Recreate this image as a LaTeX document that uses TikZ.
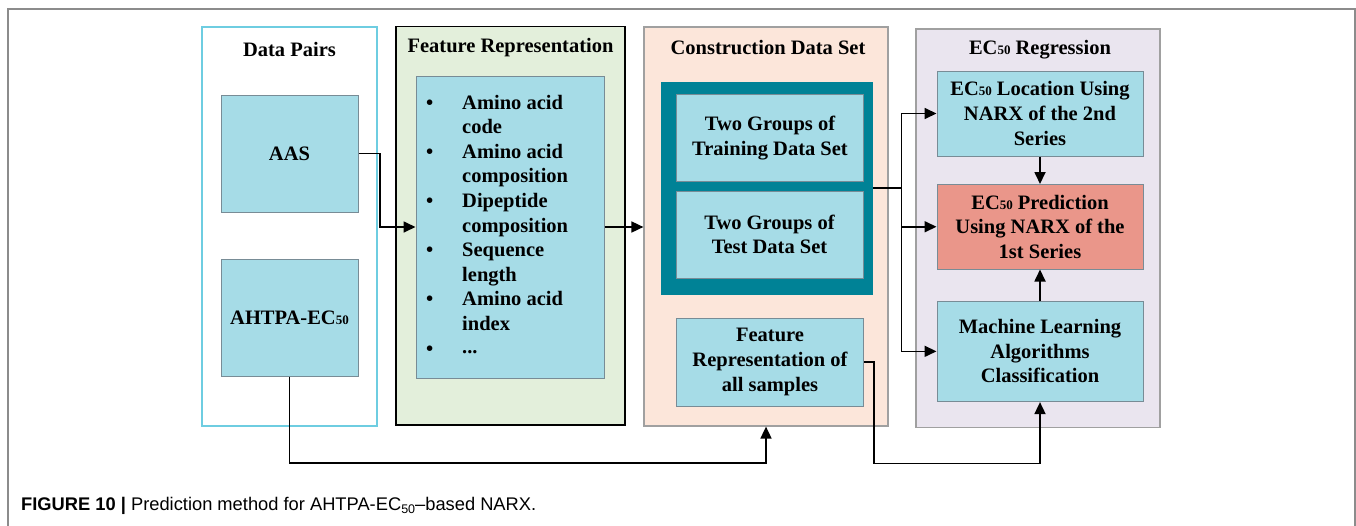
\documentclass[tikz,border=0pt]{standalone}
\usepackage{fontspec}
\setmainfont{Liberation Serif}
\newfontfamily\capfont{Liberation Sans}
\usetikzlibrary{arrows.meta}
\definecolor{boxblue}{RGB}{166,220,231}
\definecolor{boxline}{RGB}{120,140,150}
\definecolor{tealdark}{RGB}{0,130,150}
\definecolor{salmon}{RGB}{234,150,138}
\definecolor{greenpanel}{RGB}{227,239,219}
\definecolor{peach}{RGB}{252,230,218}
\definecolor{lavender}{RGB}{234,229,239}
\definecolor{panelline}{RGB}{160,160,160}
\definecolor{cyanline}{RGB}{110,205,225}
\definecolor{framegray}{RGB}{140,140,140}
\newcommand\smallnum[1]{{\fontsize{13}{13}\selectfont #1}}
\tikzset{
  panel/.style={draw=panelline, line width=1.2pt, inner sep=0pt},
  bluebox/.style={draw=boxline, fill=boxblue, line width=1pt, inner sep=0pt, align=center,
    font=\fontsize{20.5}{24.6}\selectfont\bfseries},
  ttl/.style={inner sep=0pt, font=\fontsize{20.5}{24.6}\selectfont\bfseries},
  arr/.style={draw=black, line width=1.7pt, -{Triangle[length=12pt,width=11pt]}},
  ln/.style={draw=black, line width=1.7pt}
}
\begin{document}
\begin{tikzpicture}[x=1pt,y=-1pt]
\useasboundingbox (0,0) rectangle (1356,525);
\fill[white] (0,0) rectangle (1356,525);
% outer frame
\draw[framegray, line width=1.5pt] (8,530) -- (8,9) -- (1355,9) -- (1355,530);

% panels
\node[panel, draw=cyanline, fill=white, minimum width=175pt, minimum height=399pt] (dp) at (289.5,226.5) {};
\node[panel, draw=black, line width=1.6pt, fill=greenpanel, minimum width=229pt, minimum height=398.5pt] (fr) at (510.5,225.75) {};
\node[panel, fill=peach, minimum width=244pt, minimum height=399pt] (cd) at (766,226.5) {};
\node[panel, fill=lavender, minimum width=244pt, minimum height=398.5pt] (rg) at (1038,228.25) {};

% titles
\node[ttl] (tdp) at (289.5,49.5) {Data Pairs};
\node[ttl] (tfr) at (510.5,48) {Feature Representation};
\node[ttl] (tcd) at (768,48) {Construction Data Set};
\node[ttl] (trg) at (1040,49.5) {EC\smallnum{50} Regression};

% data pairs
\node[bluebox, minimum width=137pt, minimum height=117pt] (aas) at (289.5,153.5) {AAS};
\node[bluebox, minimum width=137pt, minimum height=117pt] (aht) at (289.5,317.5) {AHTPA-EC\smallnum{50}};

% feature list
\node[bluebox, minimum width=188pt, minimum height=302pt] (list) at (510,227) {};
\node[inner sep=0pt, anchor=base west, font=\fontsize{20.5}{24.6}\selectfont\bfseries] (items) at (426,109)
{\begin{tabular}[t]{@{}p{36pt}@{}l@{}}
\textbullet & Amino acid\\
 & code\\
\textbullet & Amino acid\\
 & composition\\
\textbullet & Dipeptide\\
 & composition\\
\textbullet & Sequence\\
 & length\\
\textbullet & Amino acid\\
 & index\\
\textbullet & \raisebox{2pt}{\textbf{...}}
\end{tabular}};

% construction data set
\node[inner sep=0pt, fill=tealdark, minimum width=212.5pt, minimum height=212.5pt] (teal) at (766.75,188.3) {};
\node[bluebox, minimum width=187pt, minimum height=87.5pt] (train) at (770,137.75) {Two Groups of\\Training Data Set};
\node[bluebox, minimum width=187pt, minimum height=87pt] (test) at (769.5,234.5) {Two Groups of\\Test Data Set};
\node[bluebox, minimum width=187pt, minimum height=88pt] (frs) at (770,362) {Feature\\Representation of\\all samples};

% regression
\node[bluebox, minimum width=206pt, minimum height=85pt] (loc) at (1040,113.5) {EC\smallnum{50} Location Using\\NARX of the 2nd\\Series};
\node[bluebox, fill=salmon, minimum width=206pt, minimum height=84.5pt] (pred) at (1040,226.75) {EC\smallnum{50} Prediction\\Using NARX of the\\1st Series};
\node[bluebox, minimum width=206pt, minimum height=100.5pt] (ml) at (1040,351.35) {Machine Learning\\Algorithms\\Classification};

% junction coordinates
\coordinate (j1) at (380,0);
\coordinate (j2) at (901.5,0);
\coordinate (b1) at (0,463);
\coordinate (j3) at (874,463.5);

% connectors
\draw[arr] (aas.east) -- (aas.east -| j1) |- (list.west);
\draw[arr] (list.east) -- (list.east -| cd.west);
\draw[ln] (teal.east) -- (teal.east -| j2);
\draw[arr] (teal.east -| j2) |- (loc.west);
\draw[arr] (teal.east -| j2) |- (ml.west);
\draw[arr] (j2 |- pred.west) -- (pred.west);
\draw[arr] (loc.south) -- (pred.north);
\draw[arr] (ml.north) -- (pred.south);
\draw[arr] (aht.south) -- (aht.south |- b1) -| (cd.south);
\draw[arr] (frs.east) -| (j3) -| (ml.south);

% caption
\node[inner sep=0pt, anchor=base west, font=\capfont\fontsize{18.3}{20}\selectfont] (cap) at (21,510)
{\textbf{FIGURE 10 |} Prediction method for AHTPA-EC\raisebox{-3pt}{\fontsize{12.5}{12}\selectfont 50}–based NARX.};
\end{tikzpicture}
\end{document}
